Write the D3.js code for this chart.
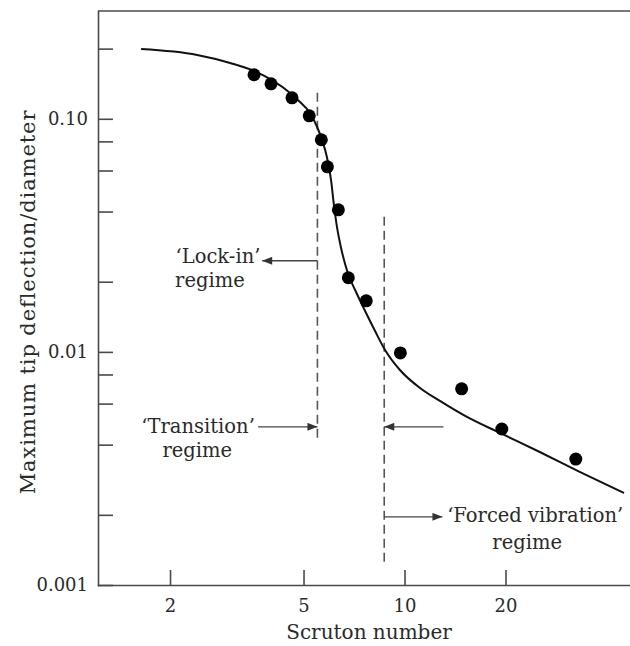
<!DOCTYPE html>
<meta charset="utf-8">
<style>
body {
  margin: 0;
  background: #fff;
}
svg text {
  font-family: 'DejaVu Serif', serif;
  fill: #2a2a2a;
}
.axis path, .axis line {
  stroke: #4a4a4a;
  stroke-width: 1.6;
}
.axis text {
  font-size: 18px;
}
</style>
<body>
<div class="viz"></div>
<script src="https://d3js.org/d3.v7.min.js"></script>
<script>

// measured points (Scruton number vs tip deflection / diameter)
var scruton = [3.56, 4.00, 4.62, 5.20, 5.65, 5.89, 6.35, 6.80, 7.69, 9.72, 14.8, 19.5, 32.4];
var deflection = [0.1545, 0.1413, 0.123, 0.103, 0.0813, 0.0622, 0.0407, 0.0208, 0.01656, 0.0099, 0.00694, 0.00467, 0.00347];

// fitted curve
var curveScruton = [1.64, 2.41, 3.02, 3.56, 4.56, 4.88, 5.23, 5.49, 5.68, 5.87, 6.04, 6.16, 6.29, 6.47, 6.79, 7.17, 7.63, 8.17, 8.75, 9.69, 11.12, 12.75, 15.35, 19.26, 25.3, 33.4, 45.1];
var curveDeflection = [0.199, 0.1878, 0.1736, 0.1604, 0.129, 0.1181, 0.1059, 0.0922, 0.0811, 0.0686, 0.0546, 0.0427, 0.03435, 0.02791, 0.02159, 0.01807, 0.01498, 0.01229, 0.01019, 0.00836, 0.0070, 0.00616, 0.00526, 0.00449, 0.00372, 0.00305, 0.00248];

// axis ticks
var xTicks = [2, 5, 10, 20];
var yTicks = [0.2, 0.1, 0.08, 0.06, 0.04, 0.02, 0.01, 0.008, 0.006, 0.004, 0.002, 0.001];
var yTickLabels = {0.1: "0.10", 0.01: "0.01", 0.001: "0.001"};

// regime boundaries
var lockInEdge = 5.5, forcedEdge = 8.7;

var width = 630, height = 646;
var margin = {top: 11, left: 98, bottom: 61};

var svg = d3.select(".viz").append("svg")
    .attr("width", width)
    .attr("height", height);

var defs = svg.append("defs");
defs.append("marker")
    .attr("id", "arrow")
    .attr("viewBox", "0 0 10 8")
    .attr("refX", 10)
    .attr("refY", 4)
    .attr("markerWidth", 11)
    .attr("markerHeight", 8)
    .attr("markerUnits", "userSpaceOnUse")
    .attr("orient", "auto")
  .append("path")
    .attr("d", "M0,0L10,4L0,8Z")
    .attr("fill", "#333");

var x = d3.scaleLog()
    .domain([1.22, 47])
    .range([margin.left, width]);

var y = d3.scaleLog()
    .domain([0.001, 0.29])
    .range([height - margin.bottom, margin.top]);

// frame top line
svg.append("line")
    .attr("x1", x.range()[0]).attr("x2", x.range()[1])
    .attr("y1", y.range()[1]).attr("y2", y.range()[1])
    .attr("stroke", "#4a4a4a")
    .attr("stroke-width", 1.6);

svg.append("g")
    .attr("class", "axis")
    .attr("transform", "translate(0," + y.range()[0] + ")")
    .call(d3.axisBottom(x)
      .tickValues(xTicks)
      .tickFormat(d3.format("d"))
      .tickSizeInner(-15)
      .tickSizeOuter(0)
      .tickPadding(14));

svg.append("g")
    .attr("class", "axis")
    .attr("transform", "translate(" + x.range()[0] + ",0)")
    .call(d3.axisLeft(y)
      .tickValues(yTicks)
      .tickFormat(function(d) { return yTickLabels[d] || ""; })
      .tickSizeInner(-15)
      .tickSizeOuter(0)
      .tickPadding(10));

svg.selectAll(".axis .domain").attr("stroke-linecap", "square");

// axis titles
svg.append("text")
    .attr("x", 369)
    .attr("y", 639)
    .style("text-anchor", "middle")
    .style("font-size", "20px")
    .text("Scruton number");

svg.append("text")
    .attr("transform", "translate(35,302) rotate(-90)")
    .style("text-anchor", "middle")
    .style("font-size", "21px")
    .style("letter-spacing", "0.9px")
    .text("Maximum tip deflection/diameter");

// regime boundaries
var bounds = [
  {s: lockInEdge, y0: 0.1293, y1: 0.00415},
  {s: forcedEdge, y0: 0.038, y1: 0.00121}
];
svg.selectAll(".bound")
    .data(bounds)
    .enter()
    .append("line")
    .attr("class", "bound")
    .attr("x1", function(d) { return x(d.s); })
    .attr("x2", function(d) { return x(d.s); })
    .attr("y1", function(d) { return y(d.y0); })
    .attr("y2", function(d) { return y(d.y1); })
    .attr("stroke", "#555")
    .attr("stroke-width", 1.6)
    .attr("stroke-dasharray", "9,5");

// arrows: from -> to, at a deflection level
var arrows = [
  {from: lockInEdge, to: 3.765, level: 0.0246},
  {from: 3.66, to: lockInEdge, level: 0.00477},
  {from: 13.06, to: forcedEdge, level: 0.00477},
  {from: forcedEdge, to: 12.97, level: 0.00196}
];
svg.selectAll(".arrow")
    .data(arrows)
    .enter()
    .append("line")
    .attr("class", "arrow")
    .attr("x1", function(d) { return x(d.from); })
    .attr("x2", function(d) { return x(d.to); })
    .attr("y1", function(d) { return y(d.level); })
    .attr("y2", function(d) { return y(d.level); })
    .attr("stroke", "#444")
    .attr("stroke-width", 1.4)
    .attr("marker-end", "url(#arrow)");

// regime labels
var labels = [
  {text: "\u2018Lock-in\u2019", s: 3.72, level: 0.0246, anchor: "end", dy: 2},
  {text: "regime", s: 2.63, level: 0.0246, anchor: "middle", dy: 26},
  {text: "\u2018Transition\u2019", s: 3.58, level: 0.00477, anchor: "end", dy: 6},
  {text: "regime", s: 2.41, level: 0.00477, anchor: "middle", dy: 30},
  {text: "\u2018Forced vibration\u2019", s: 13.4, level: 0.00196, anchor: "start", dy: 5},
  {text: "regime", s: 23.2, level: 0.00196, anchor: "middle", dy: 32}
];
svg.selectAll(".regime")
    .data(labels)
    .enter()
    .append("text")
    .attr("class", "regime")
    .attr("x", function(d) { return x(d.s); })
    .attr("y", function(d) { return y(d.level) + d.dy; })
    .style("text-anchor", function(d) { return d.anchor; })
    .style("font-size", "19.5px")
    .text(function(d) { return d.text; });

// fitted curve
var curveData = curveScruton.map(function(s, i) { return [s, curveDeflection[i]]; });
var line = d3.line()
    .x(function(d) { return x(d[0]); })
    .y(function(d) { return y(d[1]); })
    .curve(d3.curveMonotoneX);

svg.append("path")
    .datum(curveData)
    .attr("d", line)
    .attr("fill", "none")
    .attr("stroke", "#111")
    .attr("stroke-width", 2);

// data points
var points = scruton.map(function(s, i) { return {s: s, d: deflection[i]}; });
svg.selectAll(".dot")
    .data(points)
    .enter()
    .append("circle")
    .attr("class", "dot")
    .attr("cx", function(d) { return x(d.s); })
    .attr("cy", function(d) { return y(d.d); })
    .attr("r", 6.5)
    .attr("fill", "#000");

</script>
</body>
